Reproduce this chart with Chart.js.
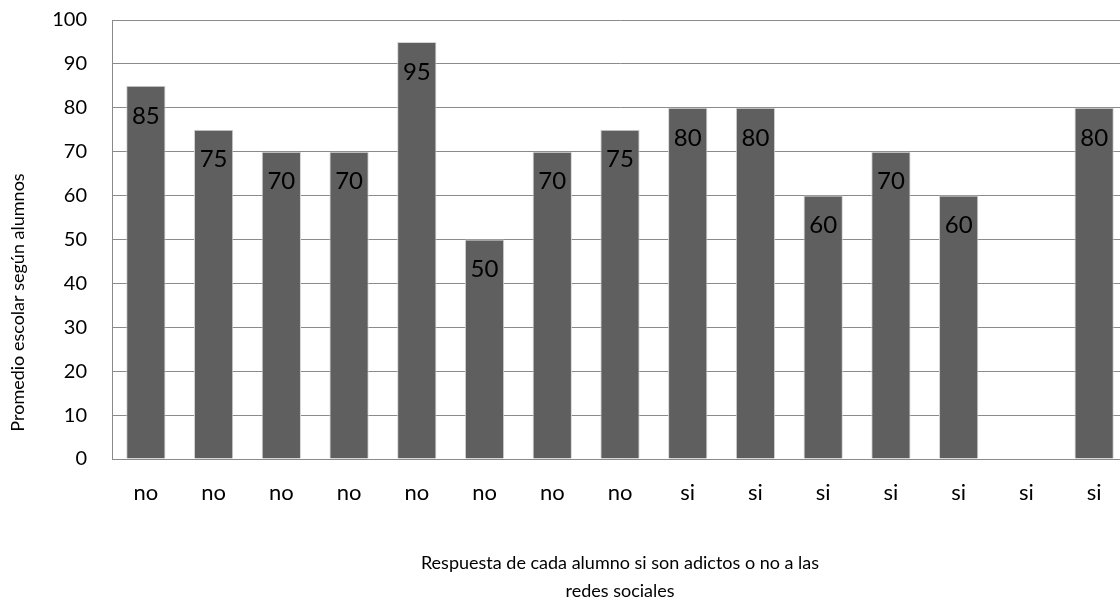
<!DOCTYPE html>
<html>
<head>
<meta charset="utf-8">
<script src="https://cdn.jsdelivr.net/npm/chart.js@4/dist/chart.umd.min.js"></script>
<style>
    html, body { margin: 0; padding: 0; background: #fff; overflow: hidden; }
    #wrap { width: 1128px; height: 605px; }
</style>
</head>
<body>
<div id="wrap"><canvas id="chartPromedio" width="1128" height="605"></canvas></div>
<script>
    // respuestas (eje x) y promedios (eje y)
    var respuestas = ['no', 'no', 'no', 'no', 'no', 'no', 'no', 'no', 'si', 'si', 'si', 'si', 'si', 'si', 'si'];
    var promedios = [85, 75, 70, 70, 95, 50, 70, 75, 80, 80, 60, 70, 60, null, 80];
    var yTicks = [0, 10, 20, 30, 40, 50, 60, 70, 80, 90, 100];
    var tituloY = 'Promedio escolar según alumnos';
    var tituloX = ['Respuesta de cada alumno si son adictos o no a las', 'redes sociales'];

    var fontName = "Lato, 'Liberation Sans', sans-serif";

    // etiquetas de valor dentro de la barra, cerca del extremo
    const etiquetasBarra = {
        id: 'etiquetasBarra',
        afterDatasetsDraw: function (chart) {
            const ctx = chart.ctx;
            const meta = chart.getDatasetMeta(0);
            ctx.save();
            ctx.font = '24px ' + fontName;
            ctx.fillStyle = '#000';
            ctx.textAlign = 'center';
            ctx.textBaseline = 'middle';
            meta.data.forEach(function (bar, idx) {
                let v = chart.data.datasets[0].data[idx];
                if (v === null || v === undefined) return;
                ctx.fillText(v, bar.x, bar.y + 30);
            });
            ctx.restore();
        }
    };

    // titulo del eje y centrado en todo el alto del grafico (como Excel)
    const tituloEjeY = {
        id: 'tituloEjeY',
        afterDraw: function (chart) {
            const ctx = chart.ctx;
            ctx.save();
            ctx.translate(18, chart.height / 2);
            ctx.rotate(-Math.PI / 2);
            ctx.font = '18px ' + fontName;
            ctx.fillStyle = '#000';
            ctx.textAlign = 'center';
            ctx.textBaseline = 'middle';
            ctx.fillText(tituloY, 0, 0);
            ctx.restore();
        }
    };

    let ctx = document.getElementById('chartPromedio').getContext('2d');

    let graf = new Chart(ctx, {
        type: 'bar',
        data: {
            labels: respuestas,
            datasets: [{
                label: 'Promedio',
                data: promedios,
                backgroundColor: '#5f5f5f',
                borderColor: '#d4d4d4',
                borderWidth: 1,
                barPercentage: 0.58,
                categoryPercentage: 1.0
            }]
        },
        plugins: [etiquetasBarra, tituloEjeY],
        options: {
            responsive: false,
            animation: false,
            layout: {
                padding: { top: 20, left: 0, right: 0, bottom: 0 }
            },
            plugins: {
                legend: { display: false },
                tooltip: { enabled: false }
            },
            scales: {
                x: {
                    grid: { display: false, drawTicks: false },
                    border: { display: true, color: '#8a8a8a', width: 1 },
                    ticks: {
                        color: '#000',
                        padding: 21,
                        font: { family: fontName, size: 22 }
                    },
                    title: {
                        display: true,
                        text: tituloX,
                        color: '#000',
                        font: { family: fontName, size: 18, lineHeight: 1.55 },
                        padding: { top: 0, bottom: 0 }
                    },
                    afterFit: function (scale) {
                        scale.height = 146;
                    }
                },
                y: {
                    min: 0,
                    max: 100,
                    afterBuildTicks: function (scale) {
                        scale.ticks = yTicks.map(function (v) { return { value: v }; });
                    },
                    grid: { color: '#8a8a8a', lineWidth: 1, drawTicks: false },
                    border: { display: true, color: '#8a8a8a', width: 1 },
                    ticks: {
                        color: '#000',
                        padding: 25,
                        font: { family: fontName, size: 20 }
                    },
                    afterFit: function (scale) {
                        scale.width = 112;
                        // el padding de ticks no debe empujar el area hacia abajo
                        scale.paddingTop = 12;
                        scale.paddingBottom = 12;
                    }
                }
            }
        }
    });
</script>
</body>
</html>
